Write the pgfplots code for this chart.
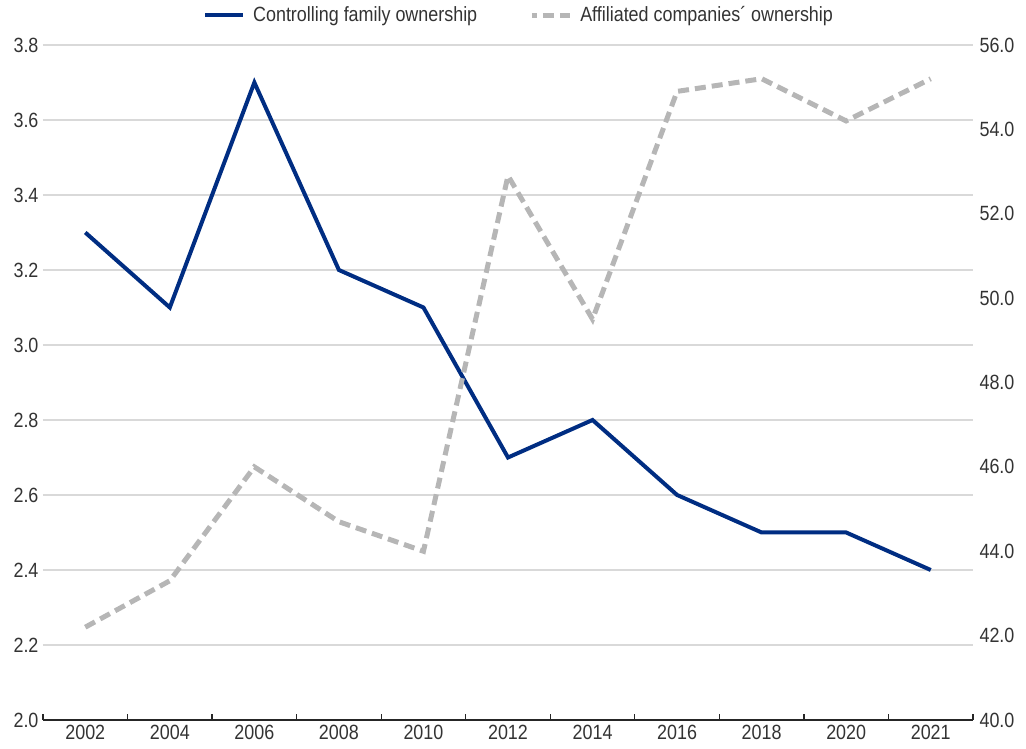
\documentclass[border=0pt]{standalone}
\usepackage{pgfplots}
\pgfplotsset{compat=1.18}
\usepackage{pgfplotstable}
\usepackage{fontspec}
\setmainfont{Liberation Sans}[FakeStretch=0.87]

\definecolor{famblue}{RGB}{0,45,130}
\definecolor{affgray}{RGB}{182,182,182}
\definecolor{gridgray}{RGB}{217,217,217}
\definecolor{labelgray}{RGB}{51,51,51}

% Ownership shares by survey year (x = category index)
\pgfplotstableread{
x  family  affiliated
0  3.3     42.2
1  3.1     43.3
2  3.7     46.0
3  3.2     44.7
4  3.1     44.0
5  2.7     52.9
6  2.8     49.5
7  2.6     54.9
8  2.5     55.2
9  2.5     54.2
10 2.4     55.2
}\owndata

\newcommand{\chartfont}{\fontsize{20.6}{24}\selectfont}

\pgfplotsset{
  ownbase/.style={
    at={(0,0)}, anchor=south west,
    scale only axis, width=930pt, height=675pt,
    xmin=-0.5, xmax=10.5,
    /pgf/number format/assume math mode=true,
    tick label style={font=\chartfont, text=labelgray},
    y tick label style={/pgf/number format/fixed,
      /pgf/number format/fixed zerofill, /pgf/number format/precision=1},
  },
}

\begin{document}
\begin{tikzpicture}
% left axis: controlling family ownership, grid and year axis
\begin{axis}[
  ownbase,
  ymin=2.0, ymax=3.8, ytick distance=0.2,
  axis x line*=bottom, axis y line*=left,
  x axis line style={draw=black!85, line width=1.2pt, -},
  y axis line style={draw=none},
  ytick style={draw=none},
  xtick={0,...,10},
  xticklabels={2002,2004,2006,2008,2010,2012,2014,2016,2018,2020,2021},
  major x tick style={draw=none},
  minor xtick={-0.5,0.5,...,10.5},
  minor x tick style={draw=black!85, line width=1.2pt},
  minor tick length=6pt,
  tick align=inside,
  x tick label style={yshift=-1.5pt},
  y tick label style={xshift=-1pt},
  ymajorgrids, grid style={gridgray, line width=1.5pt},
]
\addplot[famblue, line width=4pt] table[x=x, y=family] {\owndata};
\end{axis}
% right axis: affiliated companies' ownership
\begin{axis}[
  ownbase,
  ymin=40, ymax=56, ytick distance=2,
  axis x line=none, axis y line*=right,
  y axis line style={draw=none},
  ytick style={draw=none},
  y tick label style={xshift=3pt},
  legend style={draw=none, fill=none, at={(0.5108,1.0444)}, anchor=center,
    font=\chartfont, text=labelgray, legend columns=2,
    nodes={inner sep=0pt},
    /tikz/every odd column/.style={column sep=8pt},
    /tikz/every even column/.style={column sep=52pt}},
  legend cell align=left,
  legend image code/.code={\draw[#1, dash phase=6pt] (0pt,0pt) -- (38pt,0pt);},
]
\addlegendimage{famblue, line width=4pt}
\addplot[affgray, line width=5pt, dash pattern=on 11pt off 6pt] table[x=x, y=affiliated] {\owndata};
\legend{Controlling family ownership, Affiliated companies´ ownership}
\end{axis}
\pgfresetboundingbox
\path[use as bounding box] (-43pt,-29pt) rectangle (983pt,720pt);
\end{tikzpicture}
\end{document}
